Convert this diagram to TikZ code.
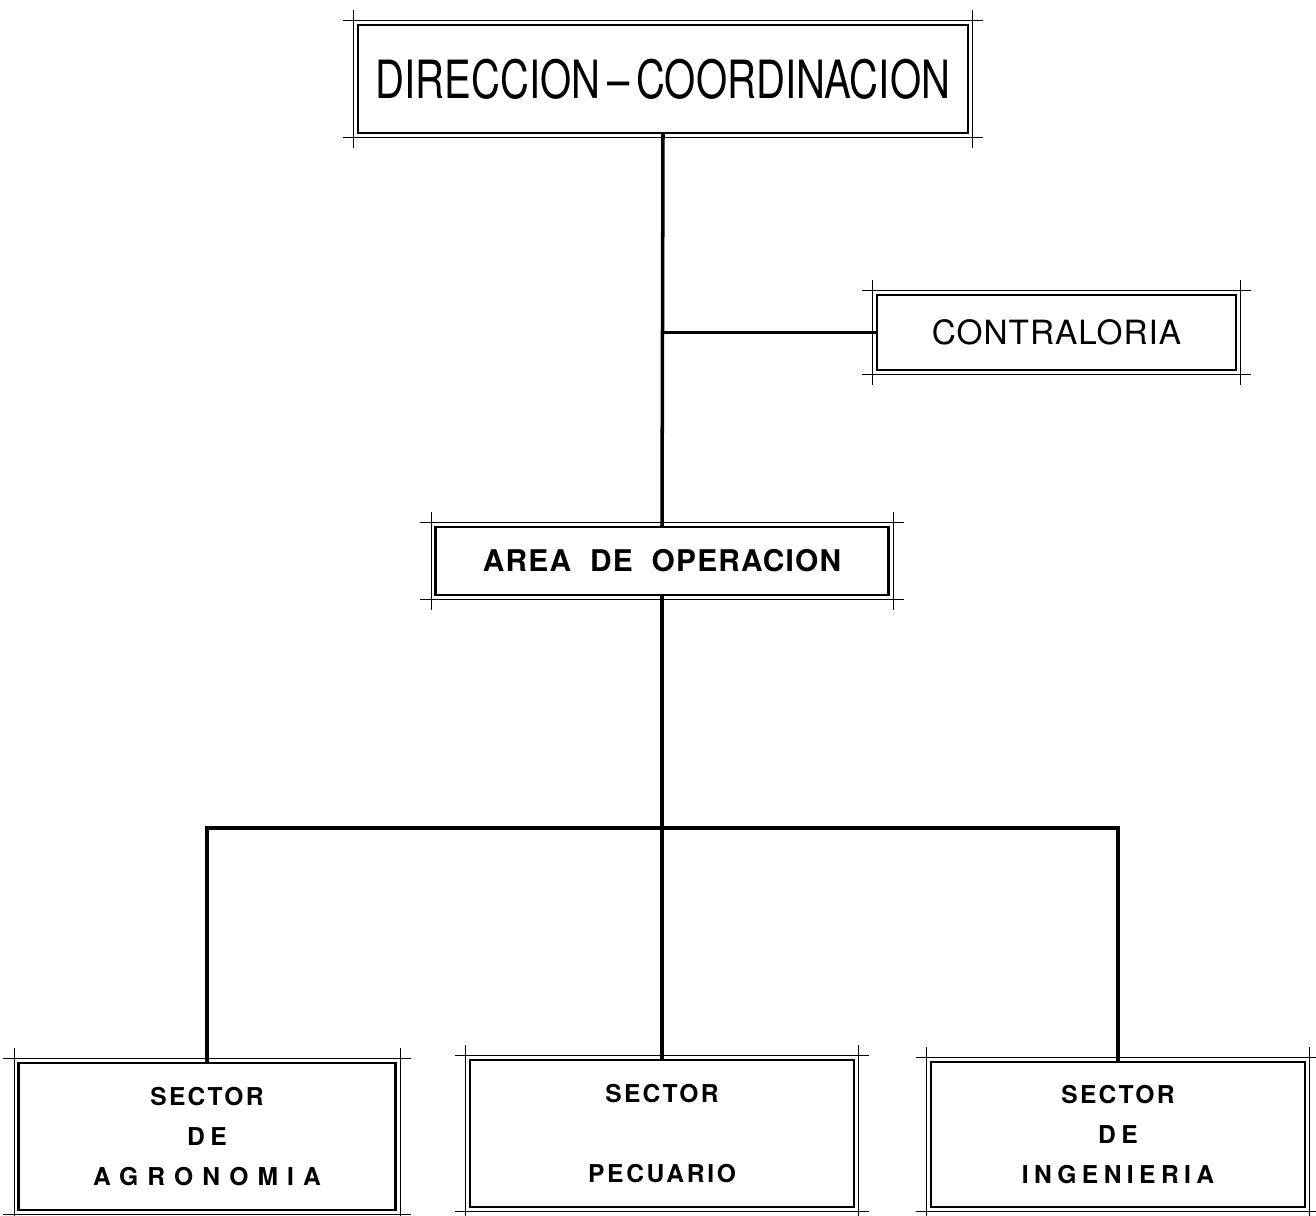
\documentclass[tikz,border=0pt]{standalone}
\usepackage{fontspec}
\setmainfont{TeX Gyre Heros}

\begin{document}
\begin{tikzpicture}[x=0.02cm,y=-0.02cm,
  caja/.style={draw, line width=1.2pt, inner sep=0pt, align=center},
  trazo/.style={line width=0.5pt, shorten <=-8pt, shorten >=-8pt},
  linea/.style={line width=2pt}]
\useasboundingbox (0,0) rectangle (1316,1216);

\node[caja, minimum width=12.2cm, minimum height=2.16cm] (dir) at (663,79)
  {\scalebox{0.76}[1]{\fontsize{30}{36}\selectfont DIRECCION\,--\,COORDINACION}};
\node[caja, minimum width=7.18cm, minimum height=1.5cm, font=\fontsize{19}{23}\selectfont] (con) at (1056.5,332.5)
  {\addfontfeatures{LetterSpace=3}CONTRALORIA};
\node[caja, minimum width=9.06cm, minimum height=1.36cm, font=\fontsize{17}{21}\selectfont\bfseries] (area) at (662,561)
  {\addfontfeatures{LetterSpace=4}AREA \ DE \ OPERACION};

% sectores
\node[caja, minimum width=7.54cm, minimum height=2.94cm, font=\fontsize{14}{22.7}\selectfont\bfseries] (agr) at (207,1136.5)
  {{\addfontfeatures{LetterSpace=9}SECTOR}\\{\addfontfeatures{LetterSpace=22}DE}\\{\addfontfeatures{LetterSpace=37}AGRONOMIA}};
\node[caja, minimum width=7.68cm, minimum height=2.94cm, font=\fontsize{14}{22.7}\selectfont\bfseries] (pec) at (662,1133.5)
  {{\addfontfeatures{LetterSpace=9}SECTOR}\\~\\{\addfontfeatures{LetterSpace=11}PECUARIO}};
\node[caja, minimum width=7.48cm, minimum height=2.9cm, font=\fontsize{14}{22.7}\selectfont\bfseries] (ing) at (1118,1134.5)
  {{\addfontfeatures{LetterSpace=9}SECTOR}\\{\addfontfeatures{LetterSpace=22}DE}\\{\addfontfeatures{LetterSpace=22}INGENIERIA}};

% lineas de dibujo en las esquinas
\foreach \n in {dir,con,area,agr,pec,ing}{
  \draw[trazo] ([yshift=2pt]\n.north west) -- ([yshift=2pt]\n.north east);
  \draw[trazo] ([yshift=-2pt]\n.south west) -- ([yshift=-2pt]\n.south east);
  \draw[trazo] ([xshift=-2pt]\n.north west) -- ([xshift=-2pt]\n.south west);
  \draw[trazo] ([xshift=2pt]\n.north east) -- ([xshift=2pt]\n.south east);
}

\coordinate (bus) at (662,828);
\draw[linea] (dir.south) -- (area.north);
\draw[linea] (con.west) -- (con.west -| dir.south);
\draw[linea] (area.south) -- (pec.north);
\draw[linea] (agr.north) |- (bus) -| (ing.north);
\end{tikzpicture}
\end{document}
